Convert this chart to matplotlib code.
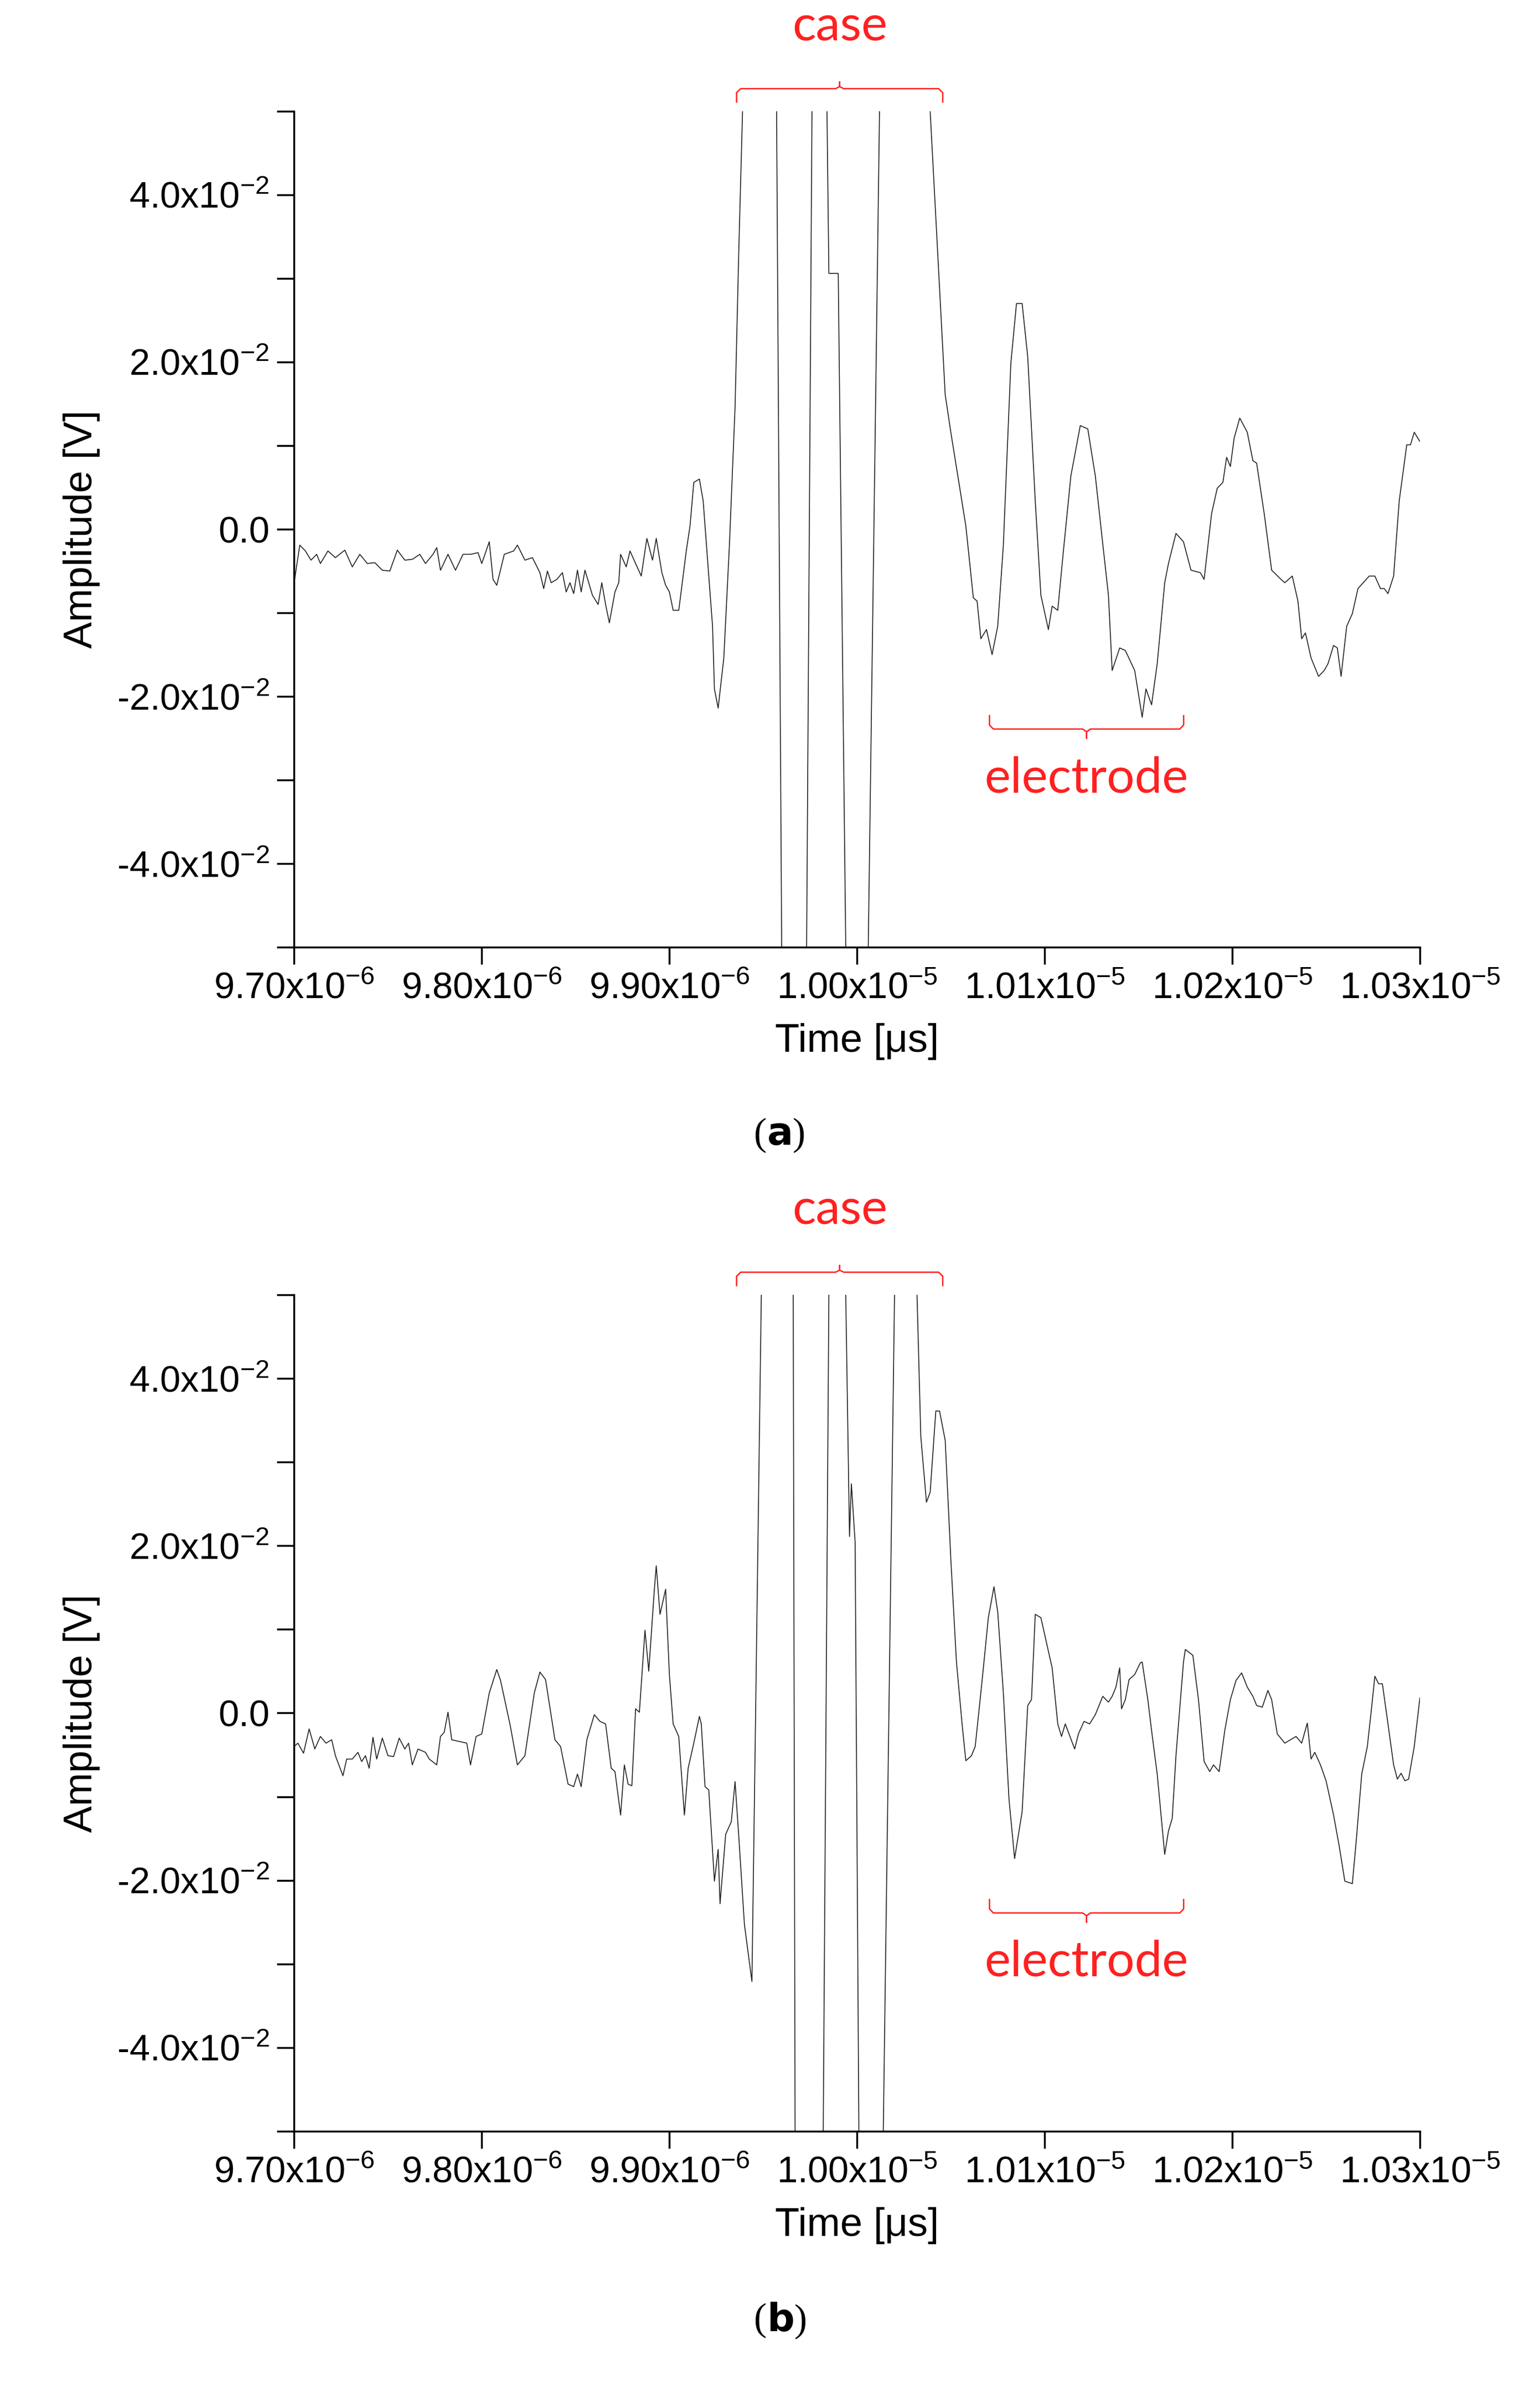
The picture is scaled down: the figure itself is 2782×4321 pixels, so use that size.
import matplotlib
matplotlib.use('Agg')
import matplotlib.pyplot as plt
from matplotlib.ticker import FixedLocator
import numpy as np

plt.rcParams['font.family'] = ['Liberation Sans', 'DejaVu Sans']
plt.rcParams['mathtext.default'] = 'regular'

# (time [ns], amplitude [mV])
wave_a = [
    (9700, -6.4), (9703, -1.9), (9706, -2.6), (9709, -3.7), (9712, -3.0), (9714, -4.1),
    (9718, -2.6), (9722, -3.4), (9727, -2.5), (9731, -4.5), (9735, -3.0), (9739, -4.1),
    (9743, -4.0), (9747, -4.9), (9751, -5.0), (9755, -2.5), (9759, -3.7), (9763, -3.6),
    (9767, -3.0), (9770, -4.1), (9774, -3.0), (9776, -2.2), (9778, -4.9), (9782, -3.0),
    (9786, -4.9), (9790, -3.0), (9794, -3.0), (9798, -2.8), (9800, -4.1), (9804, -1.5),
    (9806, -6.0), (9808, -6.7), (9812, -3.0), (9817, -2.6), (9819, -1.9), (9823, -3.7),
    (9827, -3.4), (9831, -5.2), (9833, -7.1), (9835, -5.0), (9837, -6.4), (9840, -6.0),
    (9843, -5.2), (9845, -7.5), (9847, -6.4), (9849, -7.7), (9851, -4.9), (9853, -7.5),
    (9855, -4.9), (9859, -7.9), (9862, -9.0), (9864, -6.4), (9866, -9.0), (9868, -11.2),
    (9871, -7.5), (9873, -6.4), (9874, -3.0), (9877, -4.5), (9879, -2.6), (9882, -4.1),
    (9885, -5.6), (9888, -1.1), (9891, -3.7), (9893, -1.1), (9896, -5.2), (9898, -6.7),
    (9900, -7.5), (9902, -9.7), (9905, -9.7), (9909, -2.6), (9911, 0.4), (9913, 5.6),
    (9916, 6.0), (9918, 3.4), (9920, -2.6), (9923, -11.6), (9924, -19.1), (9926, -21.4),
    (9929, -15.4), (9932, -1.9), (9935, 14.6), (9937, 33.4), (9939, 50.0), (9945, 100.0),
    (9957, 55.0), (9960, -55.0), (9966, -100.0), (9973, -55.0), (9976, 50.0), (9980, 90.0),
    (9984, 50.0), (9985, 30.6), (9990, 30.6), (9994, -50.0), (9999, -90.0), (10006, -50.0),
    (10012, 50.0), (10025, 100.0), (10039, 50.0), (10047, 16.1), (10050, 11.6), (10058, 0.4),
    (10062, -8.2), (10064, -8.6), (10066, -13.1), (10069, -12.0), (10072, -15.0), (10075, -11.6),
    (10078, -1.9), (10082, 19.9), (10085, 27.0), (10088, 27.0), (10091, 20.6), (10095, 3.4),
    (10098, -7.9), (10102, -12.0), (10104, -9.2), (10107, -9.7), (10110, -2.6), (10114, 6.4),
    (10119, 12.4), (10123, 12.0), (10127, 6.4), (10134, -7.9), (10136, -16.9), (10140, -14.2),
    (10143, -14.5), (10148, -16.9), (10152, -22.5), (10154, -19.1), (10157, -21.0), (10160, -16.1),
    (10164, -6.4), (10166, -4.1), (10170, -0.5), (10174, -1.5), (10178, -4.9), (10183, -5.2),
    (10185, -6.0), (10189, 1.9), (10192, 4.9), (10195, 5.6), (10197, 8.6), (10199, 7.5),
    (10201, 10.9), (10204, 13.3), (10208, 11.6), (10211, 8.2), (10213, 7.9), (10217, 1.9),
    (10221, -4.9), (10226, -6.0), (10228, -6.4), (10232, -5.6), (10235, -8.6), (10237, -13.1),
    (10239, -12.4), (10242, -15.4), (10246, -17.6), (10249, -16.9), (10251, -16.1), (10254, -13.9),
    (10256, -14.2), (10258, -17.6), (10261, -11.6), (10264, -10.1), (10267, -7.1), (10273, -5.6),
    (10276, -5.6), (10279, -7.1), (10281, -7.1), (10283, -7.7), (10286, -5.6), (10289, 3.4),
    (10293, 10.1), (10295, 10.1), (10297, 11.6), (10300, 10.5),
]

wave_b = [
    (9700, -4.0), (9702, -3.6), (9705, -4.8), (9708, -1.9), (9711, -4.3), (9714, -2.8),
    (9717, -3.6), (9720, -3.2), (9722, -5.1), (9726, -7.5), (9728, -5.5), (9731, -5.5),
    (9734, -4.7), (9736, -5.8), (9738, -5.1), (9740, -6.6), (9742, -2.9), (9744, -5.5),
    (9747, -3.0), (9750, -5.1), (9753, -5.2), (9756, -3.0), (9759, -4.3), (9761, -3.6),
    (9763, -6.2), (9766, -4.3), (9770, -4.7), (9772, -5.5), (9776, -6.2), (9778, -2.8),
    (9780, -2.3), (9782, 0.1), (9784, -3.2), (9788, -3.4), (9792, -3.6), (9794, -6.2),
    (9797, -2.8), (9800, -2.5), (9804, 2.4), (9808, 5.2), (9810, 3.9), (9815, -1.3),
    (9819, -6.2), (9823, -5.1), (9828, 2.4), (9831, 4.9), (9834, 4.0), (9839, -3.2),
    (9842, -4.0), (9846, -8.5), (9849, -8.8), (9851, -7.3), (9853, -8.8), (9856, -3.2),
    (9860, -0.2), (9863, -1.0), (9866, -1.3), (9869, -6.6), (9871, -7.0), (9874, -12.2),
    (9876, -6.2), (9878, -8.5), (9880, -8.7), (9882, 0.5), (9884, 0.1), (9887, 9.9),
    (9889, 5.0), (9892, 14.8), (9893, 17.6), (9895, 11.8), (9898, 14.8), (9900, 4.6),
    (9902, -1.3), (9905, -2.8), (9908, -12.2), (9910, -6.6), (9913, -3.6), (9916, -0.4),
    (9917, -1.3), (9919, -8.8), (9921, -9.2), (9924, -20.1), (9926, -16.3), (9927, -22.8),
    (9930, -14.5), (9933, -13.0), (9935, -8.2), (9937, -14.8), (9940, -25.3), (9944, -32.1),
    (9949, 50.0), (9958, 100.0), (9966, 50.0), (9967, -50.0), (9974, -100.0), (9982, -50.0),
    (9985, 50.0), (9990, 100.0), (9994, 50.0), (9996, 21.1), (9997, 27.4), (9999, 20.4),
    (10001, -50.0), (10007, -100.0), (10014, -50.0), (10020, 50.0), (10026, 100.0), (10032, 50.0),
    (10034, 33.1), (10037, 25.2), (10039, 26.4), (10042, 36.1), (10044, 36.1), (10047, 32.6),
    (10050, 18.4), (10053, 6.1), (10056, -1.3), (10058, -5.7), (10061, -5.1), (10063, -4.0),
    (10067, 4.6), (10070, 11.4), (10073, 15.1), (10075, 12.1), (10078, 2.4), (10081, -10.3),
    (10084, -17.4), (10088, -11.8), (10091, 0.9), (10093, 1.6), (10095, 11.8), (10098, 11.4),
    (10101, 8.4), (10104, 5.4), (10107, -1.3), (10109, -2.8), (10111, -1.3), (10113, -2.5),
    (10116, -4.3), (10118, -2.5), (10121, -1.0), (10124, -1.3), (10127, -0.2), (10129, 0.9),
    (10131, 2.0), (10134, 1.3), (10136, 2.0), (10138, 3.1), (10140, 5.4), (10141, 0.5),
    (10143, 1.6), (10145, 4.0), (10148, 4.6), (10151, 6.0), (10152, 6.1), (10155, 1.6),
    (10157, -2.1), (10160, -7.3), (10164, -16.9), (10166, -14.1), (10168, -12.6), (10170, -5.1),
    (10174, 6.1), (10175, 7.6), (10179, 6.9), (10182, 1.6), (10185, -5.8), (10188, -7.0),
    (10190, -6.2), (10193, -7.0), (10196, -2.1), (10199, 1.6), (10202, 3.9), (10205, 4.8),
    (10208, 3.1), (10211, 2.0), (10213, 0.9), (10216, 0.7), (10219, 2.7), (10221, 1.6),
    (10224, -2.5), (10228, -3.6), (10231, -3.2), (10234, -2.8), (10237, -3.6), (10240, -1.2),
    (10242, -5.5), (10244, -4.7), (10247, -6.2), (10250, -8.1), (10254, -12.2), (10257, -15.9),
    (10260, -20.1), (10264, -20.4), (10266, -15.5), (10269, -7.3), (10272, -4.0), (10274, 0.1),
    (10276, 4.4), (10278, 3.5), (10280, 3.5), (10283, -1.3), (10286, -6.2), (10288, -7.9),
    (10290, -7.2), (10292, -8.1), (10294, -7.9), (10297, -4.0), (10300, 1.8),
]

x_ticks = [9.70e-6, 9.80e-6, 9.90e-6, 1.00e-5, 1.01e-5, 1.02e-5, 1.03e-5]
x_labels = ['9.70x10$^{-6}$', '9.80x10$^{-6}$', '9.90x10$^{-6}$', '1.00x10$^{-5}$',
            '1.01x10$^{-5}$', '1.02x10$^{-5}$', '1.03x10$^{-5}$']
y_ticks = [-0.04, -0.02, 0.0, 0.02, 0.04]
y_labels = ['-4.0x10$^{-2}$', '-2.0x10$^{-2}$', '0.0', '2.0x10$^{-2}$', '4.0x10$^{-2}$']
y_minor = [-0.05, -0.03, -0.01, 0.01, 0.03, 0.05]

# brackets (tiempo en s)
case_span = (9.9358e-6, 10.0457e-6)
electrode_span = (10.0706e-6, 10.1741e-6)

fig = plt.figure(figsize=(27.82, 43.21), dpi=100)
ax_a = fig.add_axes([0.191, 0.604, 0.731, 0.3495])
ax_b = fig.add_axes([0.191, 0.109, 0.731, 0.3497])

red = '#ff2020'


def bracket(ax, x0, x1, y_end, y_bar, y_nub):
    xc = (x0 + x1) / 2
    w = (x1 - x0) * 0.02
    c = 0.3
    left_x = [x0, x0, x0 + w, xc - w, xc, xc]
    left_y = [y_end, y_bar - (y_bar - y_end) * c, y_bar, y_bar, y_bar + (y_nub - y_bar) * c, y_nub]
    right_x = [xc, xc, xc + w, x1 - w, x1, x1]
    right_y = [y_nub, y_bar + (y_nub - y_bar) * c, y_bar, y_bar, y_bar - (y_bar - y_end) * c, y_end]
    ax.plot(left_x, left_y, color=red, lw=1.8, clip_on=False)
    ax.plot(right_x, right_y, color=red, lw=1.8, clip_on=False)


for ax, wave in [(ax_a, wave_a), (ax_b, wave_b)]:
    t = np.array([p[0] for p in wave]) * 1e-9
    v = np.array([p[1] for p in wave]) * 1e-3
    ax.plot(t, v, color='#222222', lw=1.2)
    ax.set_xlim(9.70e-6, 1.03e-5)
    ax.set_ylim(-0.05, 0.05)
    for s in ['top', 'right']:
        ax.spines[s].set_visible(False)
    for s in ['left', 'bottom']:
        ax.spines[s].set_linewidth(2.5)
    ax.set_xticks(x_ticks)
    ax.set_xticklabels(x_labels)
    ax.set_yticks(y_ticks)
    ax.set_yticklabels(y_labels)
    ax.yaxis.set_minor_locator(FixedLocator(y_minor))
    ax.tick_params(which='both', direction='out', length=22, width=2.5, labelsize=48, pad=10)
    ax.set_xlabel('Time [μs]', fontsize=52, labelpad=22)
    ax.set_ylabel('Amplitude [V]', fontsize=52, labelpad=22)

    bracket(ax, case_span[0], case_span[1], 0.0511, 0.0527, 0.0535)
    ax.text(sum(case_span) / 2, 0.0601, 'case', color=red, fontsize=64, family='Lato',
            ha='center', va='center', clip_on=False)
    bracket(ax, electrode_span[0], electrode_span[1], -0.0223, -0.0239, -0.0250)
    ax.text(sum(electrode_span) / 2, -0.0298, 'electrode', color=red, fontsize=64, family='Lato',
            ha='center', va='center', clip_on=False)

for label, ypix in [('a', 755), ('b', 1543)]:
    yy = 1 - ypix * 2.717 / 4321
    fig.text(0.498, yy, '(', fontsize=50, family='Liberation Serif', ha='right', va='center')
    fig.text(0.498, yy, r'$\mathbf{' + label + '}$)', fontsize=50, family='Liberation Serif',
             ha='left', va='center')

fig.savefig('out.png', dpi=100)
